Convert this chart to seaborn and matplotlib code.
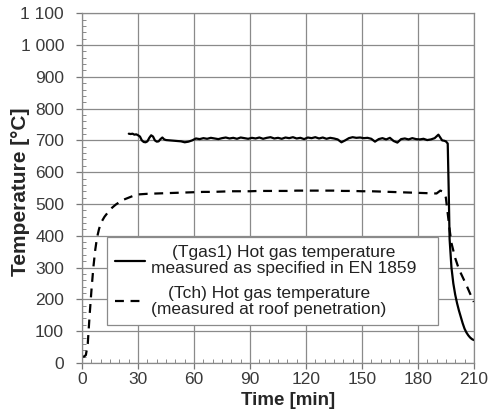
import matplotlib.pyplot as plt
import matplotlib.ticker as mticker
import pandas as pd
import seaborn as sns

sns.set_style('ticks')
plt.rcParams['font.family'] = ['Liberation Sans', 'DejaVu Sans']

# Tgas1 - hot gas temperature measured as specified in EN 1859
tgas_time = [25, 26, 27, 28, 29, 30, 31, 32, 33, 34, 35, 36, 37, 38, 39, 40, 41, 42, 43, 44, 45,
             47, 49, 51, 53, 55, 57, 59, 61, 63, 65,
             67, 69, 71, 73, 75, 77, 79, 81, 83, 85,
             87, 89, 91, 93, 95, 97, 99, 101, 103, 105,
             107, 109, 111, 113, 115, 117, 119, 121, 123, 125,
             127, 129, 131, 133, 135, 137, 139, 141, 143, 145,
             147, 149, 151, 153, 155, 157, 159, 161, 163, 165,
             167, 169, 171, 173, 175, 177, 179, 181, 183, 185,
             187, 189, 191, 193,
             194, 195, 196, 196.5, 197, 198, 199, 200, 201, 202, 203, 204, 205, 206, 207, 208, 209, 210]
tgas_temp = [721, 720, 721, 718, 719, 716, 712, 700, 695, 694, 697, 708, 716, 712, 700, 696, 697, 704, 709, 703, 701,
             700, 699, 698, 697, 694, 696, 700, 706, 704, 707,
             705, 708, 706, 704, 707, 709, 706, 708, 705, 709,
             707, 705, 708, 706, 709, 705, 708, 710, 706, 708,
             705, 709, 707, 710, 706, 708, 704, 709, 707, 710,
             706, 709, 705, 708, 706, 703, 694, 700, 707, 710,
             708, 709, 707, 708, 705, 696, 704, 707, 703, 708,
             698, 693, 704, 706, 703, 707, 704, 703, 705, 701,
             703, 707, 718, 700,
             699, 697, 690, 550, 390, 300, 250, 215, 188, 165, 145, 125, 108, 96, 87, 80, 75, 72]

# Tch - hot gas temperature measured at roof penetration
tch_time = [0, 1, 2, 3, 4, 5, 6, 7, 8, 9, 10, 12, 14, 16, 18, 20, 22, 25, 28, 30,
            35, 40, 45, 50, 55, 60, 65, 70, 75, 80,
            85, 90, 95, 100, 105, 110, 115, 120, 125, 130,
            135, 140, 145, 150, 155, 160, 165, 170, 175, 180,
            185, 190,
            192, 193, 194, 195, 196, 197, 198, 200, 202, 204, 206, 208, 210]
tch_temp = [20, 20, 25, 60, 150, 230, 300, 355, 395, 420, 440, 460, 475, 488, 498, 506, 513, 520, 527, 530,
            532, 533, 534, 535, 536, 537, 538, 538, 539, 540,
            540, 540, 541, 541, 541, 541, 542, 542, 542, 542,
            542, 541, 541, 540, 540, 539, 538, 537, 536, 535,
            534, 533,
            542, 540, 535, 520, 470, 420, 377, 330, 295, 270, 245, 218, 192]

x_ticks = [0, 30, 60, 90, 120, 150, 180, 210]
y_ticks = [0, 100, 200, 300, 400, 500, 600, 700, 800, 900, 1000, 1100]
y_tick_labels = ['0', '100', '200', '300', '400', '500', '600', '700', '800', '900', '1 000', '1 100']

label_gas = '(Tgas1) Hot gas temperature\nmeasured as specified in EN 1859'
label_ch = '(Tch) Hot gas temperature\n(measured at roof penetration)'

df_gas = pd.DataFrame({'Time': tgas_time, 'Temp': tgas_temp})
df_ch = pd.DataFrame({'Time': tch_time, 'Temp': tch_temp})

fig = plt.figure(figsize=(4.89, 4.12), dpi=100)
ax = fig.add_axes([0.168, 0.119, 0.801, 0.849])

sns.lineplot(data=df_gas, x='Time', y='Temp', ax=ax, color='black', lw=1.6, label=label_gas)
sns.lineplot(data=df_ch, x='Time', y='Temp', ax=ax, color='black', lw=1.6,
             linestyle=(0, (4, 3)), label=label_ch)

ax.set_xlim(0, 210)
ax.set_ylim(0, 1100)
ax.set_xticks(x_ticks)
ax.set_yticks(y_ticks)
ax.set_yticklabels(y_tick_labels)
ax.xaxis.set_minor_locator(mticker.MultipleLocator(5))
ax.yaxis.set_minor_locator(mticker.MultipleLocator(20))
ax.tick_params(which='major', direction='out', length=4, width=0.9, color='#777777',
               labelsize=12.5, labelcolor='#3a3a3a')
ax.tick_params(axis='y', which='major', pad=9)
ax.tick_params(axis='x', which='major', pad=2.5)
ax.tick_params(which='minor', direction='in', length=3, color='#777777')
ax.grid(True, which='major', color='#8a8a8a', lw=0.9)
for s in ax.spines.values():
    s.set_color('#8a8a8a')
    s.set_linewidth(0.9)

ax.set_xlabel('Time [min]', fontsize=13.5, fontweight='bold')
ax.xaxis.set_label_coords(0.525, -0.083)
ax.set_ylabel('Temperature [°C]', fontsize=15, fontweight='bold')
ax.yaxis.set_label_coords(-0.133, 0.49)

leg = ax.legend(loc='lower left', bbox_to_anchor=(0.064, 0.109, 0.844, 0.25), mode='expand',
                borderaxespad=0, fontsize=12.5, frameon=True, fancybox=False, framealpha=1,
                edgecolor='#8a8a8a', handlelength=1.7, handletextpad=0.4,
                labelspacing=0.55, borderpad=0.45)
leg.get_frame().set_linewidth(0.9)
for t in leg.get_texts():
    t.set_multialignment('center')
    t.set_linespacing(1.1)
    t.set_color('#222222')

fig.savefig('out.png', dpi=100)
